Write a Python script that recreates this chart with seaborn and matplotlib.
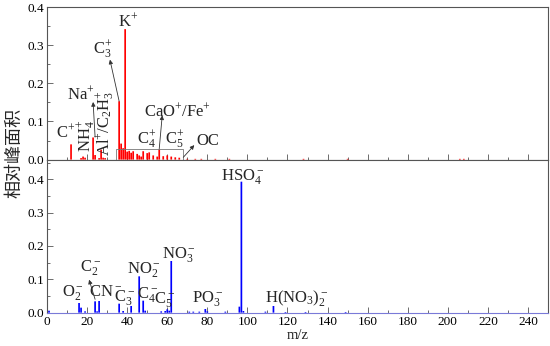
import matplotlib
matplotlib.use("Agg")
import matplotlib.pyplot as plt
from matplotlib.ticker import MultipleLocator
from matplotlib.patches import Rectangle
import seaborn as sns
import pandas as pd

# ---------------- data ----------------
pos_mz = [12, 17, 18, 19, 23, 24, 26, 27, 28, 29, 36, 37, 38, 39, 40, 41, 42, 43,
          45, 46, 47, 48, 50, 51, 53, 55, 56, 58, 60, 62, 64, 66, 70, 74, 77, 84,
          91, 128, 150, 206, 208]
pos_val = [0.040, 0.004, 0.008, 0.005, 0.058, 0.012, 0.004, 0.026, 0.005, 0.004,
           0.153, 0.042, 0.030, 0.342, 0.021, 0.023, 0.018, 0.022,
           0.015, 0.011, 0.008, 0.022, 0.017, 0.019, 0.011, 0.008, 0.027, 0.009,
           0.011, 0.008, 0.006, 0.005, 0.002, 0.002, 0.002, 0.002,
           0.002, 0.002, 0.002, 0.002, 0.002]

neg_mz = [1, 16, 17, 19, 24, 25, 26, 36, 38, 42, 46, 48, 49, 57, 59, 60, 61, 62,
          71, 73, 76, 79, 80, 89, 96, 97, 98, 109, 113, 119, 129, 149]
neg_val = [0.006, 0.029, 0.015, 0.004, 0.034, 0.004, 0.035, 0.027, 0.005, 0.020,
           0.109, 0.036, 0.006, 0.004, 0.005, 0.010, 0.006, 0.155,
           0.003, 0.003, 0.003, 0.011, 0.004, 0.003, 0.018, 0.393, 0.005, 0.003,
           0.020, 0.002, 0.002, 0.002]

x_ticks = [0, 20, 40, 60, 80, 100, 120, 140, 160, 180, 200, 220, 240]
y_ticks = [0.0, 0.1, 0.2, 0.3, 0.4]

P = "^{{+}}"
pos_labels = [
    ("K$" + P + "$", 40.4, 0.362),
    ("C$_3" + P + "$", 28, 0.288),
    ("Na$" + P + "$", 17.0, 0.172),
    ("C$" + P + "$", 9.2, 0.072),
    ("CaO$" + P + "$/Fe$" + P + "$", 65, 0.127),
    ("C$_4" + P + "$", 49.5, 0.051),
    ("C$_5" + P + "$", 63.5, 0.051),
    ("OC", 80, 0.048),
]
neg_labels = [
    ("HSO$_4^-$", 97.8, 0.407),
    ("NO$_3^-$", 65.9, 0.174),
    ("NO$_2^-$", 48.4, 0.129),
    ("C$_2^-$", 21.5, 0.135),
    ("O$_2^-$", 13, 0.060),
    ("CN$^-$", 29, 0.063),
    ("C$_3^-$", 38.6, 0.045),
    ("C$_4^-$", 50.4, 0.054),
    ("C$_5^-$", 58.8, 0.039),
    ("PO$_3^-$", 80.3, 0.042),
    ("H(NO$_3$)$_2^-$", 124.8, 0.045),
]

# ---------------- style ----------------
sns.set_theme(style="white")
plt.rcParams["font.family"] = ["Liberation Serif", "Noto Sans CJK SC", "DejaVu Sans"]
plt.rcParams["mathtext.fontset"] = "custom"
plt.rcParams["mathtext.rm"] = "Liberation Serif"
plt.rcParams["mathtext.it"] = "Liberation Serif"
plt.rcParams["mathtext.bf"] = "Liberation Serif:bold"

fig = plt.figure(figsize=(5.5, 3.46), dpi=100)
L, R = 47 / 550, 548 / 550
ax1 = fig.add_axes([L, 1 - 160 / 346, R - L, (160 - 7) / 346])
ax2 = fig.add_axes([L, 1 - 313 / 346, R - L, (313 - 160) / 346])

df_pos = pd.DataFrame({"mz": pos_mz, "val": pos_val})
df_neg = pd.DataFrame({"mz": neg_mz, "val": neg_val})

for ax, df, c in ((ax1, df_pos, "#ff0000"), (ax2, df_neg, "#0000ff")):
    sns.histplot(data=df, x="mz", weights="val", discrete=True, shrink=0.85,
                 color=c, alpha=1, linewidth=0, edgecolor="none", ax=ax)
    for p in ax.patches:
        p.set_facecolor(c)
        p.set_edgecolor("none")
        p.set_snap(False)

spine_c = "#555555"
for ax, ylim in ((ax1, (-0.001, 0.4)), (ax2, (-0.001, 0.458))):
    ax.set_xlim(0, 250)
    ax.set_ylim(*ylim)
    ax.set_xticks(x_ticks)
    ax.xaxis.set_minor_locator(MultipleLocator(10))
    ax.set_yticks(y_ticks)
    ax.yaxis.set_minor_locator(MultipleLocator(0.05))
    ax.tick_params(which="both", direction="in", colors=spine_c, labelcolor="black",
                   labelsize=9.5, width=0.6, pad=2)
    ax.tick_params(which="major", length=4)
    ax.tick_params(which="minor", length=2)
    ax.tick_params(axis="x", which="both", bottom=True, top=False)
    ax.tick_params(axis="y", which="both", left=True, right=False)
    for s in ax.spines.values():
        s.set_color(spine_c)
        s.set_linewidth(0.8)
    ax.set_ylabel("")
    ax.set_xlabel("")
    ax.set_yticklabels([f"{v:.1f}" for v in y_ticks])

ax1.set_xticklabels([])
ax2.set_xticklabels([str(t) for t in x_ticks])
ax2.spines["bottom"].set_color("#7a7ad8")
ax2.set_xlabel("m/z", fontsize=10.5, labelpad=1)

fs = 12
for txt, x, y in pos_labels:
    ax1.text(x, y, txt, fontsize=fs, ha="center", va="center")
ax1.text(20, 0.062, "NH$_4" + P + "$", fontsize=fs, ha="center", va="center", rotation=90)
ax1.text(29.5, 0.096, "Al$" + P + "$/C$_2$H$_3" + P + "$", fontsize=fs, ha="center",
         va="center", rotation=90)
for txt, x, y in neg_labels:
    ax2.text(x, y, txt, fontsize=fs, ha="center", va="center")

arw = dict(arrowstyle="-|>", lw=0.6, color="#333333", mutation_scale=6,
           shrinkA=0, shrinkB=0)
ax1.annotate("", xy=(31.4, 0.262), xytext=(36, 0.153), arrowprops=arw)
ax1.annotate("", xy=(23, 0.151), xytext=(24, 0.059), arrowprops=arw)
ax1.annotate("", xy=(57.5, 0.116), xytext=(56, 0.028), arrowprops=arw)
ax1.annotate("", xy=(73.5, 0.038), xytext=(68, 0.006), arrowprops=arw)
ax2.annotate("", xy=(21, 0.099), xytext=(24, 0.040), arrowprops=arw)

ax1.add_patch(Rectangle((34.5, 0.0), 33.5, 0.029, fill=False, ec="#777777", lw=0.6))

fig.text(0.027, 0.557, "相对峰面积", rotation=90, fontsize=13, ha="center", va="center",
         family=["Noto Sans CJK SC", "DejaVu Sans"])

fig.savefig("out.png", dpi=100)
